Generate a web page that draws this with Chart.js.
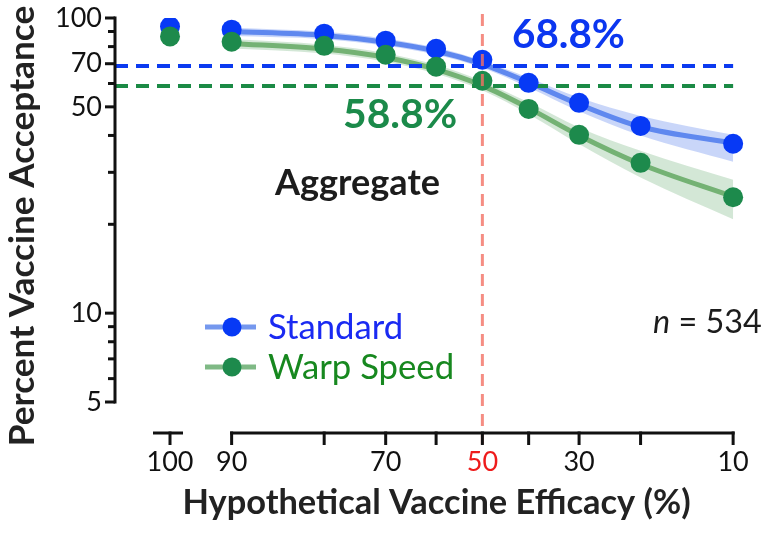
<!DOCTYPE html>
<html>
<head>
<meta charset="utf-8">
<script src="https://cdn.jsdelivr.net/npm/chart.js@4.4.1/dist/chart.umd.min.js"></script>
<style>
  html, body { margin: 0; padding: 0; background: #ffffff; }
  #wrap { width: 768px; height: 533px; }
</style>
</head>
<body>
<div id="wrap"><canvas id="c" width="768" height="533"></canvas></div>
<script>
// ---------- data ----------
const efficacy      = [100, 90, 80, 70, 60, 50, 40, 30, 20, 10];
const standardPts   = [93.6, 91.3, 88.5, 83.8, 78.7, 72.2, 60.3, 51.6, 43.1, 37.5];
const warpPts       = [86.6, 83.1, 80.5, 75.1, 68.4, 61.3, 49.2, 40.2, 32.3, 24.7];

const fitEfficacy   = [90, 80, 70, 60, 50, 40, 30, 20, 10];
const standardFit   = [90.0, 87.3, 82.8, 77.3, 69.8, 60.5, 51.0, 42.8, 37.7];
const standardLow   = [86.9, 84.8, 80.5, 75.1, 67.8, 58.1, 48.3, 40.0, 32.6];
const standardHigh  = [92.7, 89.8, 85.1, 79.4, 71.7, 62.8, 53.8, 46.6, 40.2];
const warpFit       = [82.0, 78.5, 73.5, 67.0, 59.0, 49.5, 40.0, 32.0, 24.8];
const warpLow       = [78.8, 75.8, 71.1, 64.7, 56.9, 47.2, 37.4, 28.8, 20.8];
const warpHigh      = [84.9, 81.2, 76.0, 69.4, 61.1, 51.8, 42.6, 35.5, 28.3];

const standardAt50  = 68.8;
const warpAt50      = 58.8;
const thresholdEff  = 50;

const yTicks        = [5, 10, 50, 70, 100];
const yMinorTicks   = [6, 7, 8, 9, 20, 30, 40, 60, 80, 90];
const xTicks        = [100, 90, 70, 50, 30, 10];
const xMarks        = [90, 80, 70, 60, 50, 40, 30, 20, 10];

// ---------- logit x-axis with a break for 100 % ----------
const logit = e => Math.log(e / (100 - e));
const BREAK_GAP = 0.54;                       // logit units between 90 and the detached 100 segment
const xPos = e => (e >= 100 ? logit(90) + BREAK_GAP : logit(e));
const X_MAX = logit(90) + 1.022;
const X_MIN = logit(10) - 0.218;

const pts = (xs, ys) => xs.map((e, i) => ({ x: xPos(e), y: ys[i] }));

const BLUE_PT = '#0739f5', GREEN_PT = '#1d8a4c';
const FAM = 'Lato, "Open Sans", sans-serif';

// font size that makes a text span a given width
const mctx = document.createElement('canvas').getContext('2d');
function fitSize(text, style, width) {
  mctx.font = style + ' 100px ' + FAM;
  return Math.round(100 * width / mctx.measureText(text).width * 10) / 10;
}
const X_TITLE = 'Hypothetical Vaccine Efficacy (%)';
const Y_TITLE = 'Percent Vaccine Acceptance';

const datasets = [
  { data: pts(efficacy, warpPts), order: 1, showLine: false, pointRadius: 10, pointBackgroundColor: GREEN_PT, pointBorderWidth: 0 },
  { data: pts(efficacy, standardPts), order: 2, showLine: false, pointRadius: 10, pointBackgroundColor: BLUE_PT, pointBorderWidth: 0 },
  { data: [{ x: X_MAX, y: standardAt50 }, { x: xPos(10), y: standardAt50 }], order: 3, borderColor: '#0b3af0', borderWidth: 4, borderDash: [13, 8], pointRadius: 0 },
  { data: [{ x: X_MAX, y: warpAt50 }, { x: xPos(10), y: warpAt50 }], order: 3, borderColor: '#1b8a45', borderWidth: 4, borderDash: [13, 8], pointRadius: 0 },
  { data: pts(fitEfficacy, standardFit), order: 4, borderColor: '#5f88ef', borderWidth: 5, pointRadius: 0, cubicInterpolationMode: 'monotone' },
  { data: pts(fitEfficacy, warpFit), order: 5, borderColor: '#74b274', borderWidth: 5, pointRadius: 0, cubicInterpolationMode: 'monotone' },
  { data: pts(fitEfficacy, standardHigh), order: 6, borderWidth: 0, pointRadius: 0, cubicInterpolationMode: 'monotone', fill: '+1', backgroundColor: 'rgba(92,132,238,0.33)' },
  { data: pts(fitEfficacy, standardLow), order: 6, borderWidth: 0, pointRadius: 0, cubicInterpolationMode: 'monotone', fill: false },
  { data: pts(fitEfficacy, warpHigh), order: 7, borderWidth: 0, pointRadius: 0, cubicInterpolationMode: 'monotone', fill: '+1', backgroundColor: 'rgba(80,160,90,0.25)' },
  { data: pts(fitEfficacy, warpLow), order: 7, borderWidth: 0, pointRadius: 0, cubicInterpolationMode: 'monotone', fill: false }
];

const decor = {
  id: 'decor',
  afterDatasetsDraw(chart) {
    const { ctx, chartArea: ca, scales: { x, y } } = chart;
    ctx.save();
    // threshold (50 %) vertical dashed line
    const x50 = x.getPixelForValue(xPos(thresholdEff));
    ctx.strokeStyle = 'rgba(242,112,100,0.8)';
    ctx.lineWidth = 3;
    ctx.setLineDash([12, 8]);
    ctx.beginPath(); ctx.moveTo(x50, 14); ctx.lineTo(x50, ca.bottom + 42); ctx.stroke();
    ctx.setLineDash([]);

    // y axis
    ctx.strokeStyle = '#111'; ctx.lineWidth = 3; ctx.lineCap = 'butt';
    const yTop = y.getPixelForValue(100), yBot = y.getPixelForValue(5);
    ctx.beginPath(); ctx.moveTo(ca.left, yTop - 1.5); ctx.lineTo(ca.left, yBot + 1.5); ctx.stroke();
    yTicks.forEach(v => { const p = y.getPixelForValue(v); ctx.beginPath(); ctx.moveTo(ca.left - 10, p); ctx.lineTo(ca.left, p); ctx.stroke(); });
    yMinorTicks.forEach(v => { const p = y.getPixelForValue(v); ctx.beginPath(); ctx.moveTo(ca.left - 7, p); ctx.lineTo(ca.left, p); ctx.stroke(); });

    // x axis (with detached segment for 100)
    const ax = ca.bottom + 31;
    const x90 = x.getPixelForValue(xPos(90)), x10 = x.getPixelForValue(xPos(10)), x100 = x.getPixelForValue(xPos(100));
    ctx.beginPath(); ctx.moveTo(x90 - 1.5, ax); ctx.lineTo(x10 + 1.5, ax); ctx.stroke();
    ctx.beginPath(); ctx.moveTo(x100 - 17, ax); ctx.lineTo(x100 + 13, ax); ctx.stroke();
    [100].concat(xMarks).forEach(e => { const p = x.getPixelForValue(xPos(e)); ctx.beginPath(); ctx.moveTo(p, ax - 1.5); ctx.lineTo(p, ax + 12); ctx.stroke(); });

    // y axis title
    ctx.save();
    ctx.translate(23, 226); ctx.rotate(-Math.PI / 2);
    ctx.fillStyle = '#222'; ctx.font = 'bold ' + fitSize(Y_TITLE, 'bold', 440) + 'px ' + FAM;
    ctx.textAlign = 'center'; ctx.textBaseline = 'middle';
    ctx.fillText(Y_TITLE, 0, 0);
    ctx.restore();

    // annotations
    ctx.textBaseline = 'alphabetic'; ctx.textAlign = 'left';
    ctx.font = 'bold ' + fitSize('68.8%', 'bold', 113) + 'px ' + FAM;
    ctx.fillStyle = '#0b36f0'; ctx.fillText('68.8%', 512, 48);
    ctx.font = 'bold ' + fitSize('58.8%', 'bold', 114) + 'px ' + FAM;
    ctx.fillStyle = '#1b8a4a'; ctx.fillText('58.8%', 343, 128);
    ctx.font = 'bold ' + fitSize('Aggregate', 'bold', 165) + 'px ' + FAM; ctx.fillStyle = '#1c1c1c';
    ctx.fillText('Aggregate', 275, 195);

    // legend
    const legend = [
      { label: 'Standard', line: '#7598ee', dot: BLUE_PT, text: '#1a2af2', y: 327 },
      { label: 'Warp Speed', line: '#7fb985', dot: GREEN_PT, text: '#17881f', y: 367 }
    ];
    const legSize = Math.min(fitSize('Standard', 'normal', 135), fitSize('Warp Speed', 'normal', 189));
    legend.forEach(l => {
      ctx.strokeStyle = l.line; ctx.lineWidth = 5;
      ctx.beginPath(); ctx.moveTo(205, l.y); ctx.lineTo(256, l.y); ctx.stroke();
      ctx.fillStyle = l.dot; ctx.beginPath(); ctx.arc(232, l.y, 9.5, 0, Math.PI * 2); ctx.fill();
      ctx.fillStyle = l.text; ctx.font = legSize + 'px ' + FAM; ctx.textBaseline = 'middle';
      ctx.fillText(l.label, 268, l.y + 1);
    });

    // n = 534
    const nSize = fitSize('n = 534', 'normal', 110);
    ctx.fillStyle = '#1c1c1c'; ctx.textBaseline = 'alphabetic';
    ctx.font = 'italic ' + nSize + 'px ' + FAM; ctx.fillText('n', 653, 333);
    const nw = ctx.measureText('n').width;
    ctx.font = nSize + 'px ' + FAM; ctx.fillText(' = 534', 653 + nw, 333);
    ctx.restore();
  }
};

new Chart(document.getElementById('c'), {
  type: 'line',
  data: { datasets },
  plugins: [decor],
  options: {
    responsive: false,
    animation: false,
    layout: { padding: { top: 18, left: 4, right: 8, bottom: 0 } },
    plugins: { legend: { display: false }, tooltip: { enabled: false } },
    scales: {
      x: {
        type: 'linear', reverse: true, min: X_MIN, max: X_MAX, bounds: 'data',
        grid: { display: false, drawTicks: false }, border: { display: false },
        afterBuildTicks: s => { s.ticks = xTicks.map(e => ({ value: xPos(e) })); },
        afterFit: s => { s.height = 131; s.paddingLeft = 0; s.paddingRight = 0; },
        ticks: {
          autoSkip: false, maxRotation: 0, padding: 44,
          font: { family: 'Lato, sans-serif', size: 27 },
          color: c => (xTicks[c.index] === thresholdEff ? '#ee1b1b' : '#111'),
          callback: (v, i) => String(xTicks[i])
        },
        title: { display: true, text: X_TITLE, color: '#222',
                 font: { family: FAM, size: fitSize(X_TITLE, 'bold', 508), weight: 'bold' }, padding: { top: 0, bottom: 9 } }
      },
      y: {
        type: 'logarithmic', min: 5, max: 100, bounds: 'data',
        grid: { display: false, drawTicks: false }, border: { display: false },
        afterBuildTicks: s => { s.ticks = yTicks.map(v => ({ value: v })); },
        afterFit: s => { s.width = 111; s.paddingTop = 0; s.paddingBottom = 0; },
        ticks: { padding: 13, font: { family: 'Lato, sans-serif', size: 27 }, color: '#111',
                 callback: v => String(v) }
      }
    }
  }
});
</script>
</body>
</html>
